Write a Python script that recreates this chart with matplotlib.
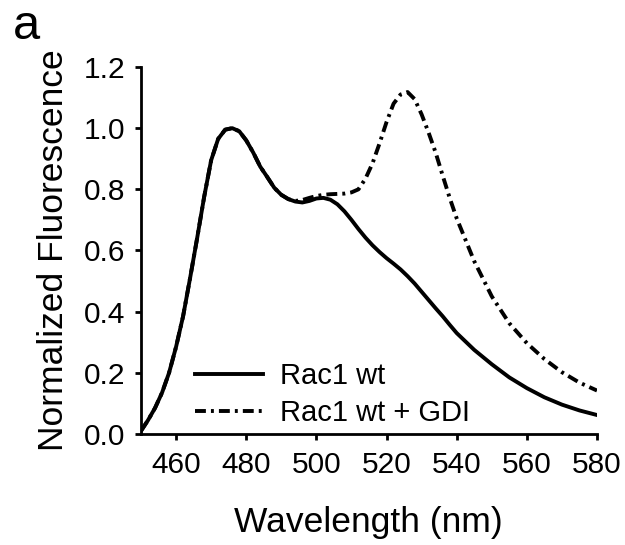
import numpy as np
import matplotlib
matplotlib.use("Agg")
import matplotlib.pyplot as plt

plt.rcParams['font.family'] = ['Liberation Sans', 'DejaVu Sans']

# Longueurs d'onde (nm) et spectres normalisés
wl = [450, 452, 454, 456, 458, 460, 462, 464, 466, 468, 470, 472, 474, 476,
      478, 480, 482, 484, 486, 488, 490, 492, 494, 496, 498, 500, 502, 504,
      506, 508, 510, 512, 514, 516, 518, 520, 522, 524, 526, 528, 530, 532,
      534, 536, 538, 540, 545, 550, 555, 560, 565, 570, 575, 580]

rac1_wt = [0.01, 0.045, 0.085, 0.135, 0.20, 0.285, 0.385, 0.51, 0.64, 0.775,
           0.895, 0.965, 0.995, 1.00, 0.99, 0.96, 0.92, 0.874, 0.84, 0.805,
           0.782, 0.768, 0.76, 0.757, 0.762, 0.77, 0.772, 0.766, 0.751, 0.728,
           0.70, 0.67, 0.642, 0.617, 0.595, 0.575, 0.557, 0.538, 0.516, 0.492,
           0.465, 0.438, 0.411, 0.385, 0.357, 0.33, 0.275, 0.228, 0.185, 0.15,
           0.12, 0.096, 0.077, 0.062]

rac1_wt_gdi = [0.01, 0.045, 0.085, 0.135, 0.20, 0.285, 0.385, 0.51, 0.64, 0.775,
               0.895, 0.965, 0.995, 1.00, 0.99, 0.96, 0.92, 0.874, 0.84, 0.805,
               0.782, 0.768, 0.762, 0.765, 0.772, 0.778, 0.782, 0.784, 0.785, 0.786,
               0.79, 0.80, 0.835, 0.885, 0.95, 1.02, 1.08, 1.11, 1.118, 1.095,
               1.045, 0.985, 0.92, 0.845, 0.772, 0.705, 0.565, 0.45, 0.362, 0.297,
               0.245, 0.202, 0.168, 0.142]

labels = ['Rac1 wt', 'Rac1 wt + GDI']

fig = plt.figure(figsize=(6.25, 5.45), dpi=100)
ax = fig.add_axes([0.2256, 0.2037, 0.7296, 0.6734])

ax.plot(wl, rac1_wt, color='black', lw=2.8, label=labels[0])
l2, = ax.plot(wl, rac1_wt_gdi, color='black', lw=2.8, label=labels[1])
l2.set_dashes((2.8, 1.3, 0.75, 1.3))
l2.set_dash_capstyle('butt')

ax.set_xlim(450, 580)
ax.set_ylim(0, 1.2)
ax.set_xticks([460, 480, 500, 520, 540, 560, 580])
ax.set_yticks(np.arange(0, 1.21, 0.2))
ax.yaxis.set_major_formatter(matplotlib.ticker.FormatStrFormatter('%.1f'))

for s in ['top', 'right']:
    ax.spines[s].set_visible(False)
for s in ['left', 'bottom']:
    ax.spines[s].set_linewidth(2.0)
ax.tick_params(axis='both', direction='out', length=4.5, width=2.0, labelsize=21.5)
ax.tick_params(axis='y', pad=7)
ax.tick_params(axis='x', pad=8)

ax.set_xlabel('Wavelength (nm)', fontsize=25.5)
ax.set_ylabel('Normalized Fluorescence', fontsize=25.5)
ax.xaxis.label.set_va('baseline')
ax.yaxis.label.set_va('baseline')
ax.xaxis.set_label_coords(0.498, -0.267)
ax.yaxis.set_label_coords(-0.171, 0.5)

ax.legend(loc='upper left', bbox_to_anchor=(0.118, 0.196), frameon=False,
          fontsize=21, handlelength=2.35, handletextpad=0.58, labelspacing=0.3,
          borderpad=0, borderaxespad=0)

fig.text(0.02, 1 - 39 / 545, 'a', fontsize=35, va='baseline')

fig.savefig('out.png', dpi=100)
